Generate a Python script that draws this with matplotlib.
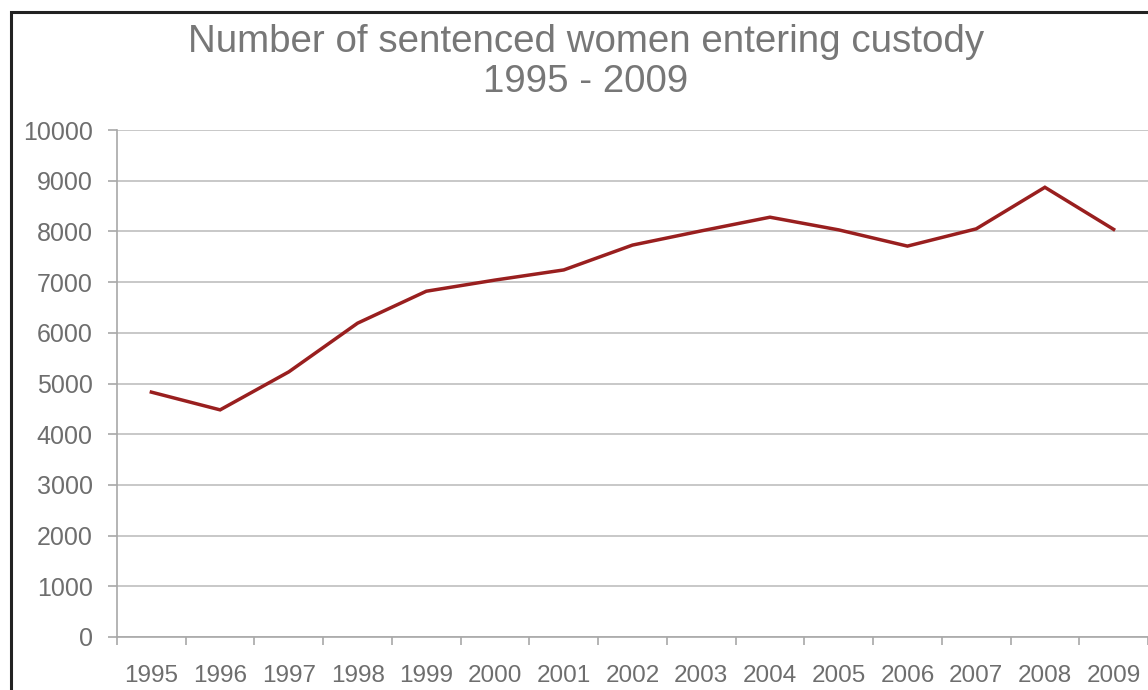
import numpy as np
import matplotlib.pyplot as plt
from matplotlib.patches import Rectangle
from matplotlib.ticker import FixedLocator

years = ['1995', '1996', '1997', '1998', '1999', '2000', '2001', '2002',
         '2003', '2004', '2005', '2006', '2007', '2008', '2009']
women = [4830, 4480, 5230, 6190, 6820, 7040, 7240, 7730,
         8010, 8280, 8030, 7710, 8050, 8870, 8040]
yticks = [0, 1000, 2000, 3000, 4000, 5000, 6000, 7000, 8000, 9000, 10000]

plt.rcParams['font.family'] = ['Liberation Sans', 'DejaVu Sans']
grey = '#6e6e6e'
gridc = '#c4c4c4'

fig = plt.figure(figsize=(11.48, 6.9), dpi=100)
ax = fig.add_axes([117/1148, 1-637/690, 1-117/1148, (637-130)/690])

# frame around the whole picture (cut off at right/bottom like the original)
fig.patches.append(Rectangle((11/1148, -0.1), 1.2, 1-12/690+0.1, transform=fig.transFigure,
                             fill=False, edgecolor='#222222', linewidth=2.2, zorder=0))

x = np.arange(len(years))
ax.plot(x, women, color='#991f1f', linewidth=2.5, zorder=3, solid_joinstyle='miter')

ax.set_xlim(-0.5, len(years)-0.5)
ax.set_ylim(0, 10000)
ax.set_yticks(yticks)
ax.set_yticklabels([str(v) for v in yticks])
ax.yaxis.grid(True, color=gridc, linewidth=1.3)
ax.set_axisbelow(True)

ax.xaxis.set_major_locator(FixedLocator(np.arange(len(years)+1)-0.5))
ax.xaxis.set_minor_locator(FixedLocator(x))
ax.set_xticklabels([], minor=False)
ax.set_xticklabels(years, minor=True)
ax.tick_params(axis='x', which='major', length=6, width=1.2, color='#a8a8a8')
ax.tick_params(axis='x', which='minor', length=0, pad=20, labelsize=17.5, labelcolor=grey)
ax.tick_params(axis='y', length=6.5, width=1.2, color='#a8a8a8', pad=11,
               labelsize=18, labelcolor=grey)

for s in ['top', 'right']:
    ax.spines[s].set_visible(False)
for s in ['left', 'bottom']:
    ax.spines[s].set_color('#a8a8a8')
    ax.spines[s].set_linewidth(1.2)

fig.text(586/1148, 1-62/690, 'Number of sentenced women entering custody\n1995 - 2009',
         ha='center', va='center', fontsize=27.7, color='#777777', linespacing=1.15)

fig.savefig('out.png', dpi=100)
